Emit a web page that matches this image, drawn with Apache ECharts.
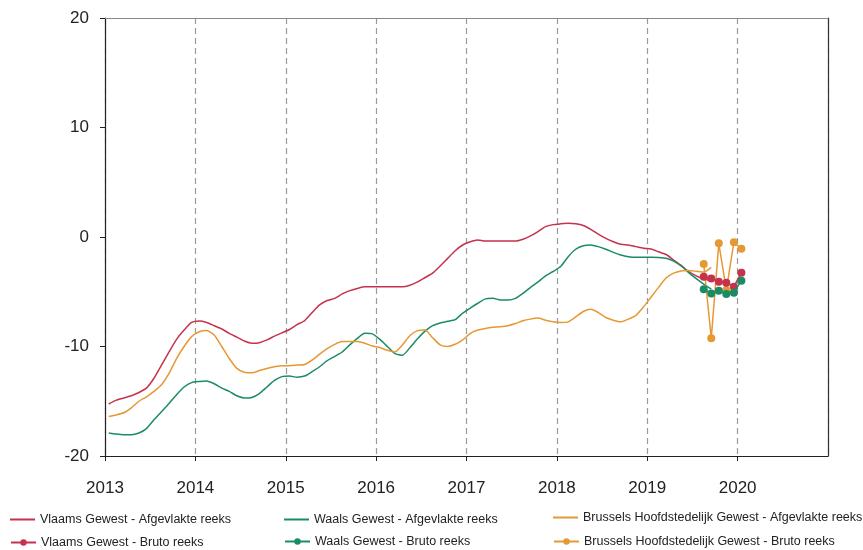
<!DOCTYPE html>
<html>
<head>
<meta charset="utf-8">
<script src="https://cdn.jsdelivr.net/npm/echarts@6/dist/echarts.min.js"></script>
<style>
  html, body { margin: 0; padding: 0; background: #fff; }
  #myChart { width: 863px; height: 550px; }
</style>
</head>
<body>
<div id="myChart"></div>
<script>
// maandelijkse afgevlakte reeksen, jan 2013 - sep 2019
var startYear = 2013;
var vlaamsAfgevlakt = [
  -15.25, -14.9, -14.7, -14.5, -14.2, -13.8, -12.9, -11.7, -10.5, -9.35, -8.5, -7.8,
  -7.67, -7.8, -8.1, -8.4, -8.8, -9.15, -9.5, -9.7, -9.65, -9.4, -9.05, -8.75,
  -8.45, -8.0, -7.65, -6.9, -6.2, -5.8, -5.6, -5.2, -4.9, -4.7, -4.55, -4.55,
  -4.55, -4.55, -4.55, -4.55, -4.4, -4.1, -3.7, -3.3, -2.65, -1.95, -1.25, -0.73,
  -0.43, -0.27, -0.37, -0.37, -0.37, -0.37, -0.37, -0.2, 0.1, 0.5, 0.95, 1.13,
  1.2, 1.25, 1.2, 1.05, 0.7, 0.27, -0.12, -0.43, -0.67, -0.73, -0.88, -1.03,
  -1.1, -1.35, -1.6, -2.1, -2.6, -3.15, -3.55, -3.85, -3.95
];
var waalsAfgevlakt = [
  -17.9, -18.0, -18.05, -18.05, -17.9, -17.5, -16.7, -15.95, -15.2, -14.4, -13.7, -13.3,
  -13.2, -13.15, -13.4, -13.8, -14.1, -14.5, -14.7, -14.65, -14.3, -13.7, -13.1, -12.75,
  -12.7, -12.8, -12.7, -12.3, -11.85, -11.3, -10.9, -10.5, -9.85, -9.25, -8.8, -8.85,
  -9.35, -10.0, -10.65, -10.8, -10.1, -9.3, -8.6, -8.1, -7.85, -7.7, -7.55, -6.95,
  -6.5, -6.05, -5.65, -5.6, -5.75, -5.75, -5.6, -5.15, -4.6, -4.1, -3.55, -3.15,
  -2.7, -1.8, -1.12, -0.8, -0.73, -0.88, -1.12, -1.4, -1.65, -1.8, -1.85, -1.85,
  -1.85, -1.87, -1.95, -2.2, -2.65, -3.25, -3.8, -4.3, -4.75
];
var brusselAfgevlakt = [
  -16.4, -16.25, -16.05, -15.6, -15.0, -14.6, -14.1, -13.5, -12.45, -11.1, -10.0, -9.1,
  -8.65, -8.55, -8.95, -10.0, -11.1, -12.0, -12.35, -12.4, -12.2, -12.0, -11.85, -11.75,
  -11.75, -11.7, -11.65, -11.25, -10.7, -10.2, -9.8, -9.55, -9.55, -9.55, -9.7, -9.95,
  -10.1, -10.35, -10.5, -9.85, -9.0, -8.55, -8.5, -9.2, -9.85, -10.0, -9.8, -9.4,
  -8.8, -8.5, -8.35, -8.25, -8.2, -8.1, -7.9, -7.65, -7.5, -7.4, -7.6, -7.75,
  -7.8, -7.75, -7.3, -6.8, -6.6, -6.9, -7.35, -7.6, -7.75, -7.5, -7.15, -6.4,
  -5.5, -4.6, -3.75, -3.3, -3.1, -3.07, -3.13, -3.2, -2.77
];
// bruto reeksen, aug 2019 - jan 2020
var brutoStart = 79; // maandindex vanaf jan 2013
var vlaamsBruto = [-3.62, -3.8, -4.08, -4.17, -4.54, -3.26];
var waalsBruto = [-4.78, -5.15, -4.9, -5.2, -5.08, -3.99];
var brusselBruto = [-2.47, -9.25, -0.58, -4.84, -0.49, -1.07];

var yTicks = [-20, -10, 0, 10, 20];
var xYears = [2013, 2014, 2015, 2016, 2017, 2018, 2019, 2020, 2021];

var kleurVlaams = '#c4324b';
var kleurWaals = '#1a8c64';
var kleurBrussel = '#e69832';

function toPoints(values, offset) {
  return values.map(function (v, i) {
    return [startYear + (offset + i + 0.5) / 12, v];
  });
}

var myChart = echarts.init(document.getElementById('myChart'));
var fontFam = '"Liberation Sans", Arial, sans-serif';

function smoothSeries(name, values, color) {
  return {
    name: name,
    type: 'line',
    data: toPoints(values, 0),
    symbol: 'none',
    smooth: 0.2,
    lineStyle: { color: color, width: 1.5 },
    itemStyle: { color: color },
    z: 2
  };
}
function brutoSeries(name, values, color, z) {
  return {
    name: name,
    type: 'line',
    data: toPoints(values, brutoStart),
    symbol: 'circle',
    symbolSize: 8,
    showSymbol: true,
    lineStyle: { color: color, width: 1.5 },
    itemStyle: { color: color },
    z: z
  };
}

// één legend-component per item, zodat de posities vastliggen
function legendItem(name, left, top, plainLine) {
  var leg = {
    left: left,
    top: top,
    itemWidth: 25,
    itemHeight: 8,
    padding: 0,
    data: [name],
    textStyle: { fontSize: 12.5, color: '#222', fontFamily: fontFam }
  };
  if (plainLine) {
    leg.icon = 'rect';
    leg.itemHeight = 2;
  }
  return leg;
}

var option = {
  animation: false,
  textStyle: { fontFamily: fontFam },
  grid: { left: 105, right: 35, top: 18, bottom: 94, show: false },
  legend: [
    legendItem('Vlaams Gewest - Afgevlakte reeks', 10, 513, true),
    legendItem('Vlaams Gewest - Bruto reeks', 10, 536),
    legendItem('Waals Gewest - Afgevlakte reeks', 284, 513, true),
    legendItem('Waals Gewest - Bruto reeks', 284, 535),
    legendItem('Brussels Hoofdstedelijk Gewest - Afgevlakte reeks', 553, 511, true),
    legendItem('Brussels Hoofdstedelijk Gewest - Bruto reeks', 553, 535)
  ],
  xAxis: [
    {
      type: 'value',
      min: xYears[0],
      max: xYears[xYears.length - 1],
      interval: 1,
      axisLine: { show: true, onZero: false, lineStyle: { color: '#222', width: 1.2 } },
      axisTick: { show: true, length: 5, lineStyle: { color: '#222' } },
      axisLabel: {
        fontSize: 17, color: '#222', margin: 24,
        showMaxLabel: false,
        formatter: function (v) { return String(v); }
      },
      splitLine: { show: true, lineStyle: { color: '#9a9a9a', type: [6, 4], width: 1.2 } }
    },
    {
      type: 'value',
      position: 'top',
      min: xYears[0],
      max: xYears[xYears.length - 1],
      interval: 1,
      axisLine: { show: true, onZero: false, lineStyle: { color: '#888', width: 1 } },
      axisTick: { show: false },
      axisLabel: { show: false },
      splitLine: { show: false }
    }
  ],
  yAxis: [
    {
      type: 'value',
      min: yTicks[0],
      max: yTicks[yTicks.length - 1],
      interval: 10,
      axisLine: { show: true, onZero: false, lineStyle: { color: '#222', width: 1.2 } },
      axisTick: { show: true, length: 5, lineStyle: { color: '#222' } },
      axisLabel: { fontSize: 17, color: '#222', margin: 16 },
      splitLine: { show: false }
    },
    {
      type: 'value',
      position: 'right',
      min: yTicks[0],
      max: yTicks[yTicks.length - 1],
      interval: 10,
      axisLine: { show: true, onZero: false, lineStyle: { color: '#333', width: 1.2 } },
      axisTick: { show: false },
      axisLabel: { show: false },
      splitLine: { show: false }
    }
  ],
  series: [
    smoothSeries('Vlaams Gewest - Afgevlakte reeks', vlaamsAfgevlakt, kleurVlaams),
    smoothSeries('Waals Gewest - Afgevlakte reeks', waalsAfgevlakt, kleurWaals),
    smoothSeries('Brussels Hoofdstedelijk Gewest - Afgevlakte reeks', brusselAfgevlakt, kleurBrussel),
    brutoSeries('Brussels Hoofdstedelijk Gewest - Bruto reeks', brusselBruto, kleurBrussel, 3),
    brutoSeries('Vlaams Gewest - Bruto reeks', vlaamsBruto, kleurVlaams, 4),
    brutoSeries('Waals Gewest - Bruto reeks', waalsBruto, kleurWaals, 5)
  ]
};
myChart.setOption(option);
</script>
</body>
</html>
